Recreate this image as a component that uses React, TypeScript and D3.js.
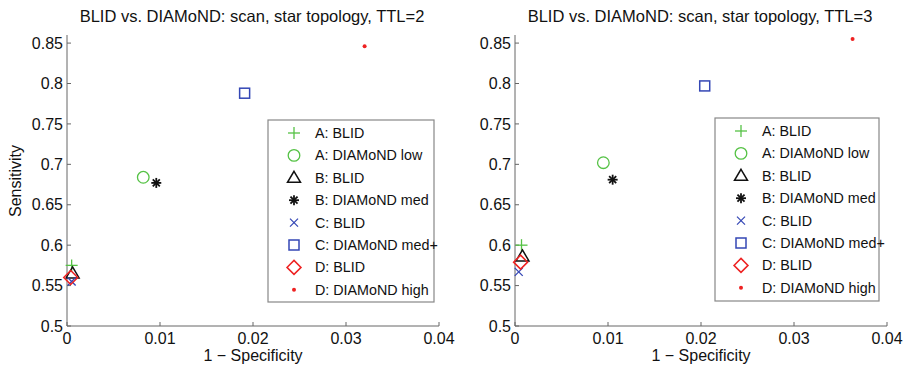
import React from "react";
import * as d3 from "d3";

// Series labels (legend order)
const seriesNames = [
  "A: BLID",
  "A: DIAMoND low",
  "B: BLID",
  "B: DIAMoND med",
  "C: BLID",
  "C: DIAMoND med+",
  "D: BLID",
  "D: DIAMoND high",
];

// TTL = 2 : 1 - specificity, sensitivity
const fprTTL2 = [0.0005, 0.0082, 0.0006, 0.0096, 0.0005, 0.0191, 0.0004, 0.0320];
const sensTTL2 = [0.575, 0.684, 0.565, 0.677, 0.555, 0.788, 0.560, 0.846];

// TTL = 3 : 1 - specificity, sensitivity
const fprTTL3 = [0.0007, 0.0095, 0.0008, 0.0105, 0.0004, 0.0204, 0.0006, 0.0363];
const sensTTL3 = [0.600, 0.702, 0.586, 0.681, 0.567, 0.797, 0.579, 0.855];

const titles = [
  "BLID vs. DIAMoND: scan, star topology, TTL=2",
  "BLID vs. DIAMoND: scan, star topology, TTL=3",
];

const xTicks = [0, 0.01, 0.02, 0.03, 0.04];
const yTicks = [0.5, 0.55, 0.6, 0.65, 0.7, 0.75, 0.8, 0.85];

type MarkerKind = "plus" | "circle" | "triangle" | "star" | "x" | "square" | "diamond" | "dot";
const markerKinds: MarkerKind[] = ["plus", "circle", "triangle", "star", "x", "square", "diamond", "dot"];
const markerColors = ["#55c245", "#55c245", "#111111", "#111111", "#3447b5", "#3447b5", "#ee2222", "#ee2222"];

const FONT = "'Liberation Sans', Arial, Helvetica, sans-serif";
const AXIS = "#666";
const TICK_FS = 16;
const LEGEND_FS = 14.3;

function Marker({ kind, x, y, color }: { kind: MarkerKind; x: number; y: number; color: string }) {
  const sw = 1.3;
  switch (kind) {
    case "plus":
      return (
        <g stroke={color} strokeWidth={sw}>
          <line x1={x - 6} y1={y} x2={x + 6} y2={y} />
          <line x1={x} y1={y - 6} x2={x} y2={y + 6} />
        </g>
      );
    case "circle":
      return <circle cx={x} cy={y} r={5.8} fill="none" stroke={color} strokeWidth={sw} />;
    case "triangle":
      return (
        <path
          d={`M${x},${y - 6.5} L${x + 6.5},${y + 4.5} L${x - 6.5},${y + 4.5} Z`}
          fill="none"
          stroke={color}
          strokeWidth={sw + 0.2}
        />
      );
    case "star": {
      const r = 5;
      const lines = [0, 45, 90, 135].map((a) => {
        const t = (a * Math.PI) / 180;
        return (
          <line key={a} x1={x - r * Math.cos(t)} y1={y - r * Math.sin(t)} x2={x + r * Math.cos(t)} y2={y + r * Math.sin(t)} />
        );
      });
      return <g stroke={color} strokeWidth={1.8}>{lines}</g>;
    }
    case "x":
      return (
        <g stroke={color} strokeWidth={sw}>
          <line x1={x - 4} y1={y - 4} x2={x + 4} y2={y + 4} />
          <line x1={x - 4} y1={y + 4} x2={x + 4} y2={y - 4} />
        </g>
      );
    case "square":
      return <rect x={x - 5} y={y - 5} width={10} height={10} fill="none" stroke={color} strokeWidth={sw + 0.2} />;
    case "diamond":
      return (
        <path
          d={`M${x},${y - 7} L${x + 7},${y} L${x},${y + 7} L${x - 7},${y} Z`}
          fill="none"
          stroke={color}
          strokeWidth={sw + 0.2}
        />
      );
    case "dot":
      return <circle cx={x} cy={y} r={2} fill={color} />;
  }
}

function Panel({
  left,
  title,
  xs,
  ys,
  legendBox,
}: {
  left: number;
  title: string;
  xs: number[];
  ys: number[];
  legendBox: { x: number; y: number; w: number; h: number };
}) {
  const plotW = 372;
  const top = 35;
  const bottom = 326;
  const x = d3.scaleLinear().domain([0, 0.04]).range([left, left + plotW]);
  const y = d3.scaleLinear().domain([0.5, 0.86]).range([bottom, top]);
  const fmt = (v: number) => d3.format("~g")(+v.toFixed(3));
  const rowH = 22.4;

  return (
    <g>
      <text x={left + plotW / 2 - 1} y={22} textAnchor="middle" fontSize={16.5} fontFamily={FONT} fill="#111">
        {title}
      </text>
      {/* axes */}
      <line x1={left} y1={top} x2={left} y2={bottom} stroke={AXIS} strokeWidth={1} />
      <line x1={left} y1={bottom} x2={left + plotW} y2={bottom} stroke={AXIS} strokeWidth={1} />
      {yTicks.map((t) => (
        <g key={"y" + t}>
          <line x1={left} x2={left + 4} y1={y(t)} y2={y(t)} stroke={AXIS} />
          <text x={left - 4} y={y(t)} dy="0.35em" textAnchor="end" fontSize={TICK_FS} fontFamily={FONT} fill="#111">
            {fmt(t)}
          </text>
        </g>
      ))}
      {xTicks.map((t) => (
        <g key={"x" + t}>
          <line x1={x(t)} x2={x(t)} y1={bottom} y2={bottom - 4} stroke={AXIS} />
          <text x={x(t)} y={bottom + 18} textAnchor="middle" fontSize={TICK_FS} fontFamily={FONT} fill="#111">
            {fmt(t)}
          </text>
        </g>
      ))}
      <text x={left + plotW / 2} y={361} textAnchor="middle" fontSize={TICK_FS} fontFamily={FONT} fill="#111">
        1 − Specificity
      </text>
      {/* data points */}
      {xs.map((v, i) => (
        <Marker key={"p" + i} kind={markerKinds[i]} x={x(v)} y={y(ys[i])} color={markerColors[i]} />
      ))}
      {/* legend */}
      <rect
        x={legendBox.x}
        y={legendBox.y}
        width={legendBox.w}
        height={legendBox.h}
        fill="#fff"
        stroke="#888"
        strokeWidth={1.2}
      />
      {seriesNames.map((name, i) => {
        const cy = legendBox.y + 13 + i * rowH;
        return (
          <g key={"l" + i}>
            <Marker kind={markerKinds[i]} x={legendBox.x + 26} y={cy} color={markerColors[i]} />
            <text x={legendBox.x + 47} y={cy} dy="0.35em" fontSize={LEGEND_FS} fontFamily={FONT} fill="#111">
              {name}
            </text>
          </g>
        );
      })}
    </g>
  );
}

export default function App() {
  return (
    <svg width={903} height={368} style={{ position: "absolute", left: 0, top: 0, background: "#fff" }}>
      <rect width={903} height={368} fill="#fff" />
      <text
        transform="translate(21,181) rotate(-90)"
        textAnchor="middle"
        fontSize={TICK_FS}
        fontFamily={FONT}
        fill="#111"
      >
        Sensitivity
      </text>
      <Panel left={67} title={titles[0]} xs={fprTTL2} ys={sensTTL2} legendBox={{ x: 268, y: 120, w: 166, h: 182 }} />
      <Panel left={515} title={titles[1]} xs={fprTTL3} ys={sensTTL3} legendBox={{ x: 715, y: 118, w: 164, h: 183 }} />
    </svg>
  );
}
